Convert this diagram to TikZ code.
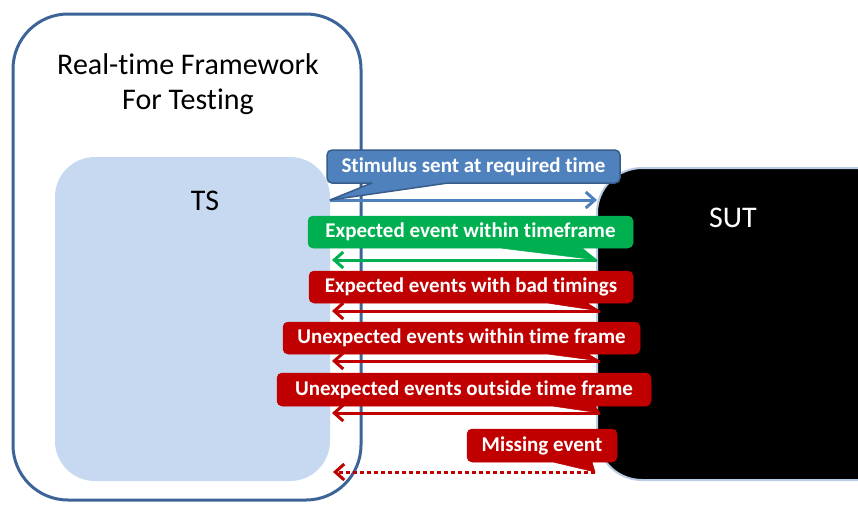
\documentclass[tikz,border=0pt]{standalone}
\usepackage{fontspec}
\setmainfont{Carlito}[Ligatures={NoCommon,NoRequired}]
\usetikzlibrary{arrows.meta,calc}
\definecolor{frameblue}{RGB}{60,100,152}
\definecolor{tsfill}{RGB}{198,217,241}
\definecolor{sutedge}{RGB}{185,205,229}
\definecolor{callblue}{RGB}{79,129,189}
\definecolor{callblueedge}{RGB}{56,93,138}
\definecolor{callgreen}{RGB}{0,176,80}
\definecolor{callred}{RGB}{192,0,0}
\tikzset{
  framebox/.style={draw=frameblue, line width=3pt, rounded corners=55pt, inner sep=0pt, outer sep=0pt},
  tsbox/.style={fill=tsfill, draw=none, rounded corners=40pt, inner sep=0pt, outer sep=0pt},
  sutbox/.style={fill=black, draw=sutedge, line width=2pt, rounded corners=45pt, inner sep=0pt, outer sep=0pt},
  bigtext/.style={font=\fontsize{30}{35}\selectfont, align=center, inner sep=0pt},
  cshape/.style={minimum height=33pt, inner sep=0pt, outer sep=0pt},
  ctext/.style={text=white, font=\bfseries\fontsize{21}{24}\selectfont, inner sep=0pt},
  sig/.style={line width=3pt, -{Straight Barb[length=9pt,width=16pt]}},
  sigdot/.style={line width=3pt, dash pattern=on 4pt off 3pt, -{Straight Barb[length=9pt,width=16pt]}}
}
\begin{document}
\begin{tikzpicture}[x=1pt,y=-1pt]
\clip (0,0) rectangle (858,504);
\fill[white] (0,0) rectangle (858,504);

% containers
\node[framebox, minimum width=348pt, minimum height=486pt, anchor=north west] (frame) at (13,14) {};
\node[bigtext] (title) at (188,84) {Real-time Framework\\For Testing};
\node[tsbox, minimum width=275pt, minimum height=324pt, anchor=north west] (TS) at (55,157) {};
\node[bigtext] (tslabel) at (205,201) {TS};
\node[sutbox, minimum width=320pt, minimum height=312pt, anchor=north west] (SUT) at (597,168) {};
\node[bigtext, text=white] (sutlabel) at (733,218) {SUT};

% connector end points
\coordinate (ts1) at (330,200);  \coordinate (sut1) at (597,200);
\coordinate (sut2) at (597,260); \coordinate (ts2) at (332,260);
\coordinate (sut3) at (600,311); \coordinate (ts3) at (332,311);
\coordinate (sut4) at (600,361); \coordinate (ts4) at (332,361);
\coordinate (sut5) at (600,413); \coordinate (ts5) at (332,413);
\coordinate (sut6) at (595,472); \coordinate (ts6) at (333,472);

% connectors
\draw[sig, callblue] (ts1) -- (sut1);
\draw[sig, callgreen] (sut2) -- (ts2);
\draw[sig, callred] (sut3) -- (ts3);
\draw[sig, callred] (sut4) -- (ts4);
\draw[sig, callred] (sut5) -- (ts5);
\draw[sigdot, callred] (sut6) -- (ts6);

% callout 1
\node[cshape, minimum width=293pt] (c1) at (473.5,166.5) {};
\draw[fill=callblue, draw=callblueedge, line width=1.5pt, line join=round]
  ($(c1.south west)+(45,0)$) [rounded corners=5pt] -- (c1.south west) -- (c1.north west) -- (c1.north east) -- (c1.south east)
  [sharp corners] -- ($(c1.south west)+(121,0)$) -- (ts1) -- cycle;
\node[ctext] (c1t) at (c1) {Stimulus sent at required time};

% callout 2
\node[cshape, minimum width=325pt, minimum height=32pt] (c2) at (470.5,232) {};
\draw[fill=callgreen, draw=callgreen, line width=0.5pt]
  ($(c2.south west)+(192,0)$) [rounded corners=5pt] -- (c2.south west) -- (c2.north west) -- (c2.north east) -- (c2.south east)
  [sharp corners] -- ($(c2.south west)+(274,0)$) -- (sut2) -- cycle;
\node[ctext] (c2t) at (c2) {Expected event within timeframe};

% callout 3
\node[cshape, minimum width=324pt, minimum height=32pt] (c3) at (471,287) {};
\draw[fill=callred, draw=callred, line width=0.5pt]
  ($(c3.south west)+(238,0)$) [rounded corners=5pt] -- (c3.south west) -- (c3.north west) -- (c3.north east) -- (c3.south east)
  [sharp corners] -- ($(c3.south west)+(278,0)$) -- (sut3) -- cycle;
\node[ctext] (c3t) at (c3) {Expected events with bad timings};

% callout 4
\node[cshape, minimum width=357pt, minimum height=32pt] (c4) at (461.5,338) {};
\draw[fill=callred, draw=callred, line width=0.5pt]
  ($(c4.south west)+(264,0)$) [rounded corners=5pt] -- (c4.south west) -- (c4.north west) -- (c4.north east) -- (c4.south east)
  [sharp corners] -- ($(c4.south west)+(305,0)$) -- (sut4) -- cycle;
\node[ctext] (c4t) at (c4) {Unexpected events within time frame};

% callout 5
\node[cshape, minimum width=374pt] (c5) at (464,389.5) {};
\draw[fill=callred, draw=callred, line width=0.5pt]
  ($(c5.south west)+(275,0)$) [rounded corners=5pt] -- (c5.south west) -- (c5.north west) -- (c5.north east) -- (c5.south east)
  [sharp corners] -- ($(c5.south west)+(318,0)$) -- (sut5) -- cycle;
\node[ctext] (c5t) at (c5) {Unexpected events outside time frame};

% callout 6
\node[cshape, minimum width=150pt] (c6) at (542,445.5) {};
\draw[fill=callred, draw=callred, line width=0.5pt]
  ($(c6.south west)+(86,0)$) [rounded corners=5pt] -- (c6.south west) -- (c6.north west) -- (c6.north east) -- (c6.south east)
  [sharp corners] -- ($(c6.south west)+(125,0)$) -- (sut6) -- cycle;
\node[ctext] (c6t) at (c6) {Missing event};
\end{tikzpicture}
\end{document}
